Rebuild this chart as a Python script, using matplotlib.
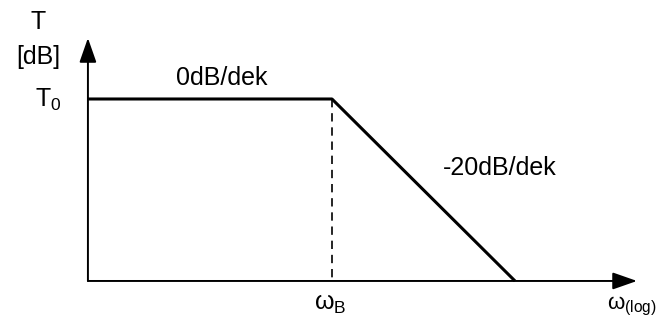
import matplotlib
matplotlib.use("Agg")
import matplotlib.pyplot as plt

plt.rcParams['font.family'] = ['Liberation Sans', 'DejaVu Sans']
plt.rcParams['mathtext.fontset'] = 'custom'
plt.rcParams['mathtext.rm'] = 'Liberation Sans'

# asymptotic Bode magnitude (omega in rad/s, T in dB)
omega = [0.0464, 1.0, 10.0]
T_db = [0, 0, -20]
omega_B = 1.0
T0 = 0
omega_axis = [0.0464, 46.4]
T_axis = [-20, 6.7]

fig = plt.figure(figsize=(6.59, 3.2), dpi=100)
ax = fig.add_axes([0, 0, 1, 1])
ax.set_xscale('log')
ax.set_xlim(0.01535, 61.2)
ax.set_ylim(-24.29, 10.88)
ax.axis('off')

arrow = dict(arrowstyle='-|>,head_length=1.0,head_width=0.35', mutation_scale=15,
             lw=1.4, color='black', shrinkA=0, shrinkB=0)
ax.annotate('', xy=(omega_axis[1], T_axis[0]), xytext=(omega_axis[0], T_axis[0]), arrowprops=arrow)
ax.annotate('', xy=(omega_axis[0], T_axis[1]), xytext=(omega_axis[0], T_axis[0]), arrowprops=arrow)

ax.plot(omega, T_db, color='black', lw=2.2, solid_capstyle='butt')
ax.plot([omega_B, omega_B], [T0, T_axis[0]], color='black', lw=1.2, dashes=(5, 3.5))

fs = 18
tr = ax.transAxes
ax.text(38/659, 1 - 22/320, 'T', transform=tr, fontsize=fs, ha='center', va='center')
ax.text(38/659, 1 - 57/320, '[dB]', transform=tr, fontsize=fs, ha='center', va='center')
ax.text(48/659, 1 - 100/320, r'$\mathregular{T_0}$', transform=tr, fontsize=fs, ha='center', va='center')
ax.text(222/659, 1 - 78/320, '0dB/dek', transform=tr, fontsize=fs, ha='center', va='center')
ax.text(500/659, 1 - 168/320, '-20dB/dek', transform=tr, fontsize=fs, ha='center', va='center')
ax.text(330/659, 1 - 304/320, r'$\mathregular{ω_B}$', transform=tr, fontsize=fs, ha='center', va='center')
ax.text(657/659, 2/320, r'$\mathregular{ω_{(log)}}$', transform=tr, fontsize=16, ha='right', va='bottom')

fig.savefig('out.png', dpi=100)
